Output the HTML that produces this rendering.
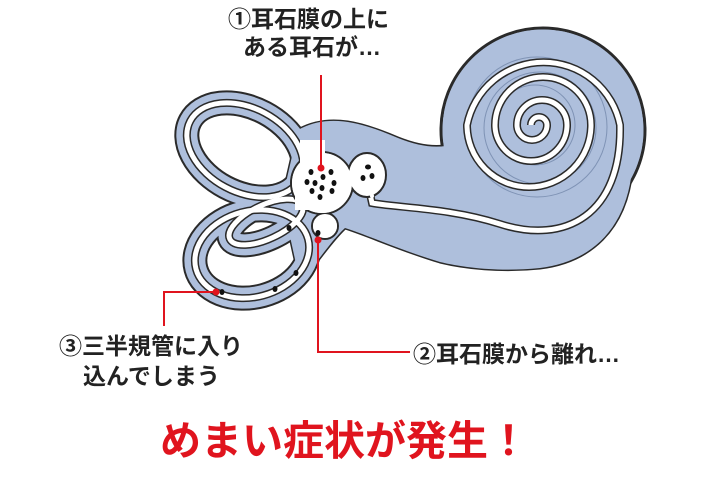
<!DOCTYPE html>
<html><head><meta charset="utf-8"><style>
body{margin:0;width:720px;height:479px;background:#fff;overflow:hidden;position:relative;font-family:"Liberation Sans","Noto Sans CJK JP",sans-serif;font-weight:bold;color:#222}
.t{position:absolute;white-space:nowrap;font-size:23px;line-height:1}
</style></head><body>
<svg width="720" height="479" style="position:absolute;left:0;top:0">
<defs>
<path id="body" d="M298,130 C330,112 365,124 398,138 C428,150 452,150 470,135 L560,150 L632,170 C626,230 590,262 540,268 C500,272 465,268 440,262 C400,250 370,236 345,228 C330,242 318,262 300,282 L282,200 Z"/>
<ellipse id="c1" cx="245" cy="150" rx="62" ry="42" transform="rotate(28 245 150)"/>
<ellipse id="c2" cx="252" cy="254" rx="58" ry="43" transform="rotate(-15 252 254)"/>
<ellipse id="c3" cx="266" cy="222" rx="40" ry="17" transform="rotate(-25 266 222)"/>
<path id="duct" d="M368,185 L372,203 C400,208 450,208 500,224 C565,245 622,215 620,125 A78,78 0 0 0 467,125 A62,62 0 0 0 591,125 A48,48 0 0 0 495,125 A36,36 0 0 0 567,125 A25,25 0 0 0 517,125 A15,15 0 0 0 547,125 A8,8 0 0 0 531,125"/>
</defs>
<g stroke="#2a2a2a" stroke-width="3" fill="#aebfdc">
<use href="#body"/><circle cx="543" cy="130" r="102"/>
</g>
<g fill="none" stroke="#2a2a2a" stroke-width="25"><use href="#c1"/><use href="#c2"/><use href="#c3"/></g>
<g fill="none" stroke="#aebfdc" stroke-width="21"><use href="#c1"/><use href="#c2"/><use href="#c3"/></g>
<g fill="#aebfdc"><use href="#body"/><circle cx="543" cy="130" r="100.5"/></g>
<g fill="none" stroke="#7f93b5" stroke-width="1"><circle cx="540" cy="128" r="56"/><circle cx="535" cy="125" r="40"/><circle cx="537" cy="127" r="70"/></g>
<g fill="none" stroke="#2a2a2a" stroke-width="8"><use href="#c1"/><use href="#c2"/><use href="#c3"/><use href="#duct"/></g>
<g fill="none" stroke="#fff" stroke-width="5"><use href="#c1"/><use href="#c2"/><use href="#c3"/><use href="#duct"/></g>
<g stroke="#2a2a2a" stroke-width="2" fill="#fff">
<circle cx="325" cy="226" r="13"/>
<circle cx="322" cy="183" r="31"/>
<ellipse cx="367" cy="175" rx="19" ry="22"/>
</g>
<g fill="#fff"><circle cx="325" cy="226" r="12"/><circle cx="322" cy="183" r="30"/><rect x="300" y="140" width="25" height="30"/><rect x="295" y="195" width="20" height="15"/><circle cx="372" cy="196" r="2"/></g>
<g fill="#111">
<ellipse cx="311" cy="172" rx="2.5" ry="3"/><ellipse cx="331" cy="172" rx="2.5" ry="3"/><ellipse cx="323" cy="177" rx="2.5" ry="3"/>
<ellipse cx="307" cy="182" rx="2.5" ry="3"/><ellipse cx="315" cy="183" rx="2.5" ry="3"/><ellipse cx="334" cy="183" rx="2.5" ry="3"/>
<ellipse cx="322" cy="188" rx="2.5" ry="3"/><ellipse cx="312" cy="191" rx="2.5" ry="3"/><ellipse cx="332" cy="191" rx="2.5" ry="3"/><ellipse cx="320" cy="197" rx="2.5" ry="3"/>
<ellipse cx="368" cy="167" rx="3" ry="2.5"/><ellipse cx="363" cy="178" rx="2.5" ry="3"/><ellipse cx="372" cy="176" rx="2.5" ry="3"/>
<ellipse cx="318" cy="233" rx="2.5" ry="3"/><ellipse cx="289" cy="228" rx="2.5" ry="3"/>
<ellipse cx="296" cy="273" rx="2.5" ry="3"/><ellipse cx="275" cy="289" rx="2.5" ry="3"/><ellipse cx="222" cy="292" rx="2.5" ry="3"/>
</g>
<g stroke="#e0141e" stroke-width="2" fill="none">
<path d="M321,75 V168"/><path d="M318,240 V352 H410"/><path d="M216,292 H164 V326"/>
</g>
<g fill="#e0141e"><circle cx="321" cy="168" r="3.5"/><circle cx="318" cy="240" r="3.5"/><circle cx="216" cy="292" r="3.5"/></g>
</svg>
<div class="t" style="left:228px;top:8px">①耳石膜の上に</div>
<div class="t" style="left:243px;top:36px">ある耳石が…</div>
<div class="t" style="left:59px;top:335px">③三半規管に入り</div>
<div class="t" style="left:83px;top:365px">込んでしまう</div>
<div class="t" style="left:413px;top:343px">②耳石膜から離れ…</div>
<div class="t" style="left:160px;top:421px;font-size:41px;color:#e0141e">めまい症状が発生！</div>
</body></html>
